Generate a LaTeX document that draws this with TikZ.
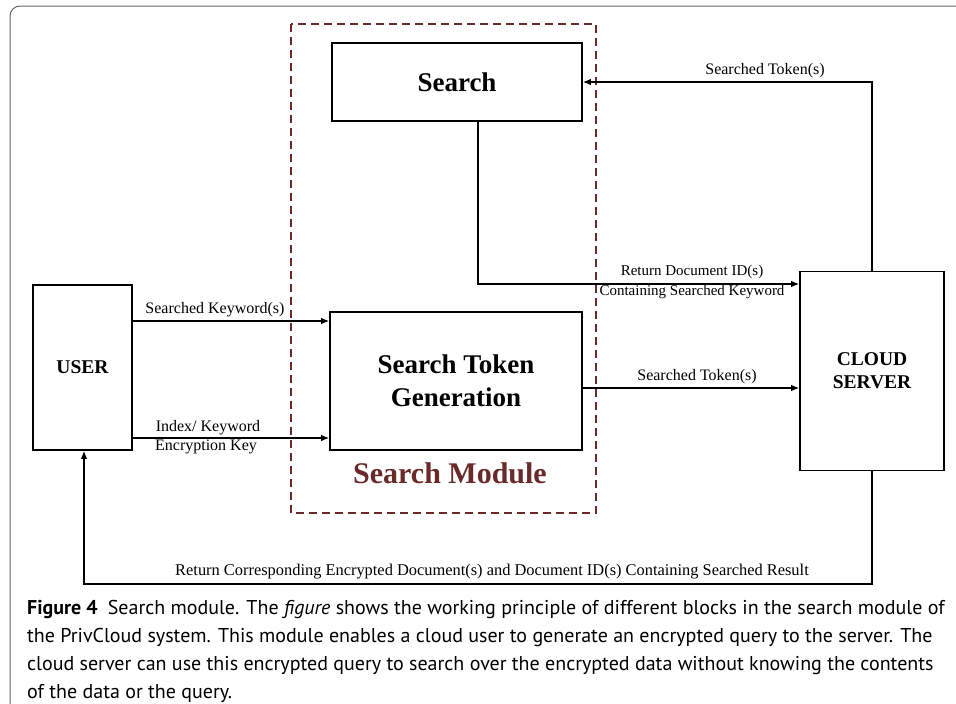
\documentclass[tikz,border=0pt]{standalone}
\usepackage{fontspec}
\setmainfont{Liberation Serif}
\newfontfamily\capfont{PT Sans}
\usetikzlibrary{arrows.meta}
\definecolor{modred}{HTML}{6B2A2A}

\tikzset{
    block/.style={draw, line width=1.6pt, inner sep=0pt, align=center},
    arr/.style={line width=1.3pt, -{Latex[length=8pt,width=6.5pt]}},
    lbl/.style={inner sep=1pt, font=\fontsize{16}{18}\selectfont, align=center}
}

\begin{document}
\begin{tikzpicture}[x=1pt, y=-1pt]
        \useasboundingbox (0,0) rectangle (956,704);
        % Frame
        \draw [gray!80!black, line width=1pt, rounded corners=10pt] (10,710) |- (962,6);

        % Module
        \draw [modred, line width=1.6pt, dash pattern=on 8pt off 5pt] (291,24) rectangle (596,513);
        \node [modred, font=\fontsize{30}{32}\selectfont\bfseries] (mod) at (450,473) {Search Module};

        % Blocks
        \node [block, minimum width=250pt, minimum height=78pt, font=\fontsize{27}{29}\selectfont\bfseries] (search) at (457,82) {Search};
        \node [block, minimum width=252pt, minimum height=138pt, font=\fontsize{27}{33}\selectfont\bfseries] (stg) at (456,381) {Search Token\\Generation};
        \node [block, minimum width=99pt, minimum height=165pt, font=\fontsize{19.5}{23}\selectfont\bfseries] (user) at (82.5,367.5) {USER};
        \node [block, minimum width=144pt, minimum height=199pt, font=\fontsize{19.5}{23}\selectfont\bfseries] (cloud) at (872,371) {CLOUD\\SERVER};

        % Arrows
        \draw [arr] (user.east |- 0,321) -- (stg.west |- 0,321);
        \draw [arr] (user.east |- 0,438) -- (stg.west |- 0,438);
        \draw [arr] (stg.east |- 0,388) -- (cloud.west |- 0,388);
        \draw [arr] (478,0 |- search.south) |- (cloud.west |- 0,284);
        \draw [arr] (cloud.north) |- (search.east);
        \draw [arr] (cloud.south) -- (872,584) -| (user.south -| 84,0);

        % Labels
        \node [lbl, anchor=south] (l1) at (215,318) {Searched Keyword(s)};
        \node [lbl] (l2) at (208,428) {Index/ Keyword};
        \node [lbl] (l3) at (206,447) {Encryption Key};
        \node [lbl, anchor=south] (l4) at (697,385) {Searched Token(s)};
        \node [lbl, font=\fontsize{15}{17}\selectfont] (l5) at (692,272) {Return Document ID(s)};
        \node [lbl, font=\fontsize{15}{17}\selectfont] (l6) at (692,292) {Containing Searched Keyword};
        \node [lbl, anchor=south] (l7) at (765,79) {Searched Token(s)};
        \node [lbl, anchor=south, font=\fontsize{16.4}{18}\selectfont] (l8) at (492,580) {Return Corresponding Encrypted Document(s) and Document ID(s) Containing Searched Result};

        % Caption
        \node [anchor=north west, inner sep=0pt, align=left, font=\capfont\fontsize{20}{28}\selectfont] (cap) at (27,600)
            {\textbf{Figure 4}\enspace Search module. The \textit{figure} shows the working principle of different blocks in the search module of\\
            the PrivCloud system. This module enables a cloud user to generate an encrypted query to the server. The\\
            cloud server can use this encrypted query to search over the encrypted data without knowing the contents\\
            of the data or the query.};
    \end{tikzpicture}
\end{document}
